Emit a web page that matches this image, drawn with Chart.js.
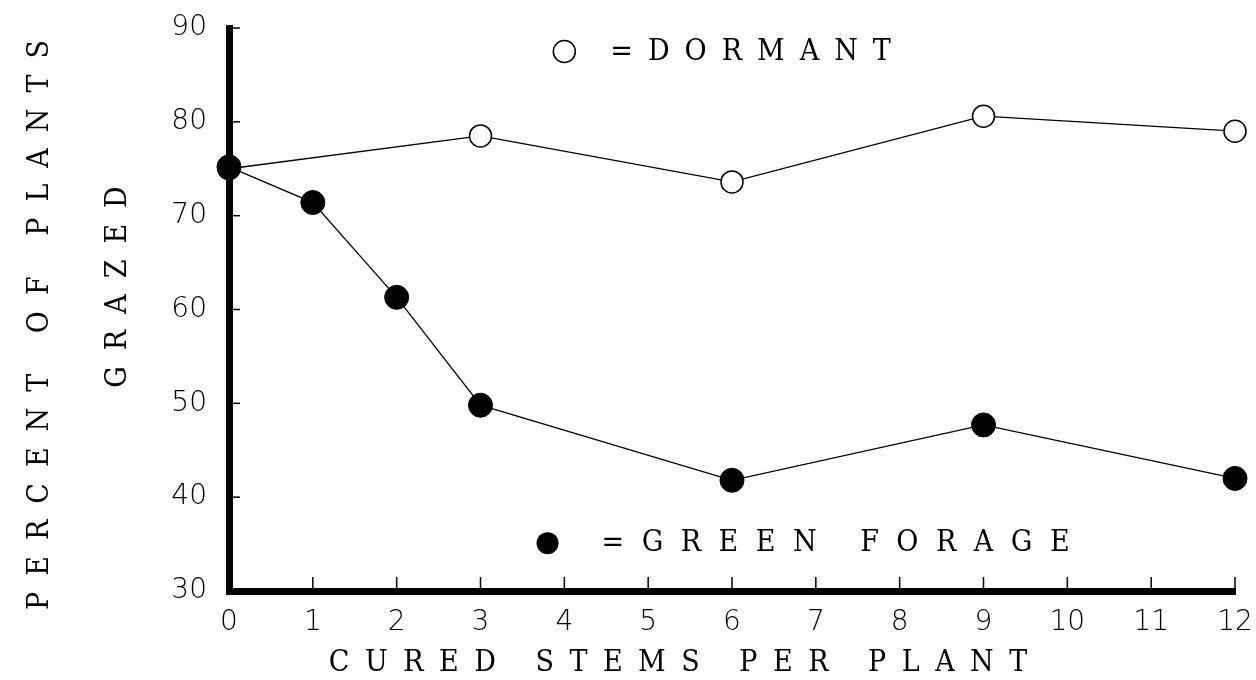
<!DOCTYPE html>
<html>
<head>
<meta charset="utf-8">
<script src="https://cdn.jsdelivr.net/npm/chart.js@4.4.1/dist/chart.umd.min.js"></script>
<style>
  html, body { margin: 0; padding: 0; background: #fff; }
  #wrap { width: 1256px; height: 680px; }
</style>
</head>
<body>
<div id="wrap"><canvas id="myChart" width="1256" height="680"></canvas></div>
<script>
// values
const dormantStems = [0, 3, 6, 9, 12];
const dormantPct = [75.0, 78.5, 73.6, 80.6, 79.0];
const greenStems = [0, 1, 2, 3, 6, 9, 12];
const greenPct = [75.2, 71.4, 61.3, 49.8, 41.8, 47.7, 42.0];

const xTitle = 'CURED STEMS PER PLANT';
const yTitle1 = 'PERCENT OF PLANTS';
const yTitle2 = 'GRAZED';
const dormantLabel = '=DORMANT';
const greenLabel = '=GREEN FORAGE';

const tickFont = { family: 'DejaVu Sans', size: 28, weight: '200' };
const titleFont = '30px "DejaVu Serif Condensed", "Liberation Serif", serif';

function spacedText(ctx, text, x, y, spacing, align) {
  ctx.letterSpacing = spacing + 'px';
  const w = ctx.measureText(text).width - spacing;
  let sx = x;
  if (align === 'center') sx = x - w / 2;
  ctx.textAlign = 'left';
  ctx.fillText(text, sx, y);
  ctx.letterSpacing = '0px';
}

// keep the tick labels from pushing the plot area in
function noLabelPadding(s) {
  s.paddingTop = 0;
  s.paddingBottom = 0;
  s.paddingLeft = 0;
  s.paddingRight = 0;
}

const decorations = {
  id: 'decorations',
  afterDraw(chart) {
    const ctx = chart.ctx, xs = chart.scales.x, ys = chart.scales.y;
    const area = chart.chartArea;
    ctx.save();
    ctx.strokeStyle = '#000';
    ctx.lineWidth = 1.5;
    // inward tick marks
    xs.ticks.forEach(t => {
      if (t.value === 0) return;
      const px = xs.getPixelForValue(t.value);
      ctx.beginPath();
      ctx.moveTo(px, area.bottom);
      ctx.lineTo(px, area.bottom - 14);
      ctx.stroke();
    });
    ys.ticks.forEach(t => {
      if (t.value === 30) return;
      const py = ys.getPixelForValue(t.value);
      ctx.beginPath();
      ctx.moveTo(area.left, py);
      ctx.lineTo(area.left + 11, py);
      ctx.stroke();
    });

    ctx.fillStyle = '#000';
    ctx.font = titleFont;
    ctx.textBaseline = 'middle';
    // x title
    spacedText(ctx, xTitle, 678, 663, 15.5, 'center');
    // y titles
    ctx.save();
    ctx.translate(40, 325);
    ctx.rotate(-Math.PI / 2);
    spacedText(ctx, yTitle1, 0, 0, 16, 'center');
    ctx.restore();
    ctx.save();
    ctx.translate(118, 287);
    ctx.rotate(-Math.PI / 2);
    spacedText(ctx, yTitle2, 0, 0, 16, 'center');
    ctx.restore();

    // in-plot key
    const dx = xs.getPixelForValue(4.0), dy = ys.getPixelForValue(87.5);
    ctx.beginPath();
    ctx.arc(dx, dy, 11, 0, Math.PI * 2);
    ctx.fillStyle = '#fff';
    ctx.fill();
    ctx.stroke();
    ctx.fillStyle = '#000';
    spacedText(ctx, dormantLabel, dx + 46, dy + 1, 15, 'left');

    const gx = xs.getPixelForValue(3.8), gy = ys.getPixelForValue(35.1);
    ctx.beginPath();
    ctx.arc(gx, gy, 11, 0, Math.PI * 2);
    ctx.fill();
    spacedText(ctx, greenLabel, gx + 54, gy, 17.5, 'left');
    ctx.restore();
  }
};

new Chart('myChart', {
  type: 'line',
  data: {
    datasets: [
      {
        label: 'Green forage',
        data: greenStems.map((s, i) => ({ x: s, y: greenPct[i] })),
        borderColor: '#000',
        borderWidth: 1.3,
        pointRadius: 12,
        pointBackgroundColor: '#000',
        pointBorderColor: '#000',
        pointBorderWidth: 1,
        clip: false,
        order: 0,
      },
      {
        label: 'Dormant',
        data: dormantStems.map((s, i) => ({ x: s, y: dormantPct[i] })),
        borderColor: '#000',
        borderWidth: 1.3,
        pointRadius: 11,
        pointBackgroundColor: '#fff',
        pointBorderColor: '#000',
        pointBorderWidth: 1.5,
        clip: false,
        order: 1,
      },
    ],
  },
  options: {
    responsive: false,
    animation: false,
    devicePixelRatio: 1,
    layout: { padding: { top: 28, right: 21, left: 0, bottom: 0 } },
    scales: {
      x: {
        type: 'linear',
        min: 0,
        max: 12,
        afterFit: s => { s.height = 89; noLabelPadding(s); },
        ticks: { stepSize: 1, color: '#000', font: tickFont, padding: 15, maxRotation: 0 },
        grid: { display: false, drawTicks: false },
        border: { display: true, width: 7, color: '#000' },
      },
      y: {
        min: 30,
        max: 90,
        afterFit: s => { s.width = 229; noLabelPadding(s); },
        ticks: { stepSize: 10, color: '#000', font: tickFont, padding: 22 },
        grid: { display: false, drawTicks: false },
        border: { display: true, width: 7, color: '#000' },
      },
    },
    plugins: {
      legend: { display: false },
      tooltip: { enabled: false },
    },
  },
  plugins: [decorations],
});
</script>
</body>
</html>
